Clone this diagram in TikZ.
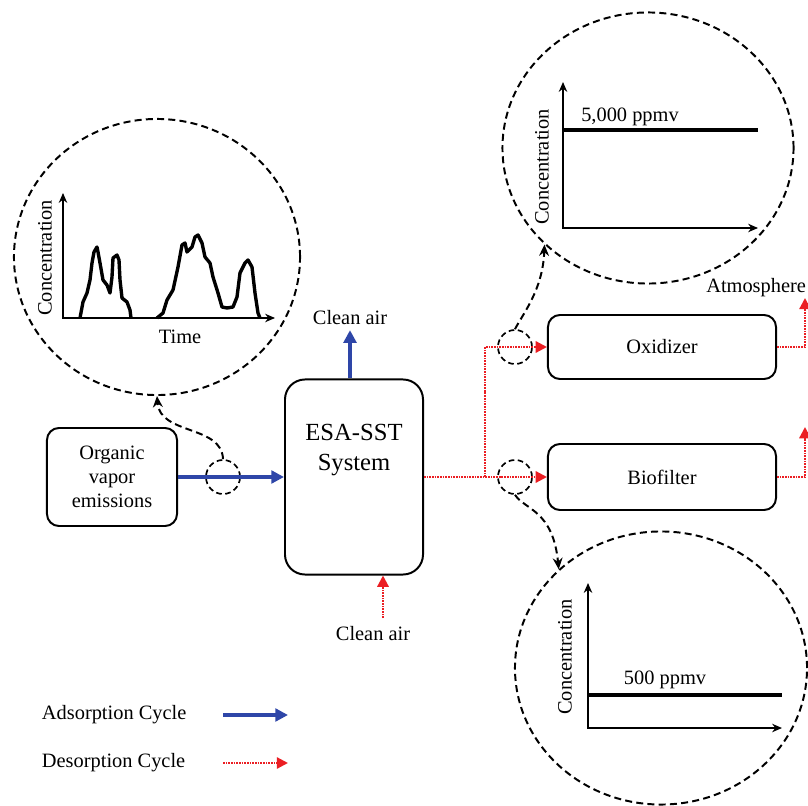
\documentclass[tikz,border=0pt]{standalone}
\usepackage{fontspec}
\setmainfont{Liberation Serif}
\usetikzlibrary{arrows.meta,shapes.geometric,positioning}
\definecolor{adsorbblue}{RGB}{46,70,168}
\definecolor{desorbred}{RGB}{235,30,35}
\begin{document}
\begin{tikzpicture}
[x=0.025cm, y=-0.025cm,
  every node/.style={font=\fontsize{14.5}{17}\selectfont},
  boxdecorate/.style={draw,line width=1.4pt,rounded corners=0.3cm,inner sep=0pt,align=center},%
  circledecorate/.style={shape=ellipse,draw,line width=1.4pt,dash pattern=on 5pt off 3pt,inner sep=0pt},%
  lensdecorate/.style={shape=circle,draw,line width=1.2pt,dash pattern=on 4pt off 2.5pt,inner sep=0pt,minimum size=0.85cm},%
  adsorbdecorate/.style={-{Triangle[length=9pt,width=9pt]},line width=2.8pt,adsorbblue},%
  desorbdecorate/.style={-{Triangle[length=8pt,width=8pt]},line width=1.6pt,desorbred,dash pattern=on 1.2pt off 0.7pt},%
  probedecorate/.style={-{Stealth[length=8pt,width=7pt]},line width=1.4pt,dash pattern=on 5pt off 3pt},%
  axisdecorate/.style={{Stealth[length=7pt,width=6pt]}-{Stealth[length=7pt,width=6pt]},line width=2pt},%
  tracedecorate/.style={line width=2.4pt,line join=round}]
\useasboundingbox (0,0) rectangle (808,806);
%% process boxes
\node (organic) at (112,477) [boxdecorate,minimum width=3.25cm,minimum height=2.45cm] {Organic\\vapor\\emissions};
\node (esa) at (354,477) [boxdecorate,rounded corners=0.5cm,minimum width=3.45cm,minimum height=4.875cm] {};
\node (esatext) at (354,450) [align=center,font=\fontsize{17.5}{21}\selectfont] {ESA-SST\\System};
\node (oxidizer) at (662,347) [boxdecorate,minimum width=5.7cm,minimum height=1.6cm] {Oxidizer};
\node (biofilter) at (662,477) [boxdecorate,minimum width=5.7cm,minimum height=1.65cm] {Biofilter};
\node (cleantop) at (350,318) {Clean air};
\node (cleanbot) at (373,634) {Clean air};
\node (atmosphere) at (706,288) [anchor=west,inner sep=0pt] {Atmosphere};
%% magnified views
\foreach \nodename/\x/\y/\w/\h in {plotA/157/257/7.15/6.9, plotB/648/148/7.275/6.775,
  plotC/661/668/7.3/6.825}
{
  \node (\nodename) at (\x,\y) [circledecorate,minimum width=\w cm,minimum height=\h cm] {};
}
\foreach \nodename/\x/\y in {lensA/223/477, lensB/515/347, lensC/515/477}
{
  \node (\nodename) at (\x,\y) [lensdecorate] {};
}
%% chart contents
\foreach \labelname/\x/\y in {concA/45/258, concB/542/167, concC/565/657}
{
  \node (\labelname) at (\x,\y) [rotate=90] {Concentration};
}
\node (time) at (180,337) {Time};
\node (levelB) at (630,117) {5,000 ppmv};
\node (levelC) at (665,680) {500 ppmv};
\draw[axisdecorate] (63,193) -- (63,318) -- (275,318);
\draw[axisdecorate] (563,82) -- (563,228) -- (758,228);
\draw[axisdecorate] (588,583) -- (588,728) -- (782,728);
\draw[tracedecorate] (563,130) -- (758,130);
\draw[tracedecorate] (588,695) -- (782,695);
\draw[tracedecorate] (80,318) -- (83,302) -- (87,293) -- (90,280) -- (92,263) -- (94,252)
  -- (97,247) -- (98,252) -- (100,263) -- (103,280) -- (107,285) -- (110,293) -- (112,277)
  -- (113,258) -- (117,255) -- (119,260) -- (120,280) -- (122,298) -- (127,302)
  -- (130,310) -- (131,318);
\draw[tracedecorate] (157,318) -- (163,313) -- (167,300) -- (173,290) -- (178,267)
  -- (182,245) -- (185,243) -- (187,252) -- (192,247) -- (195,237) -- (198,235)
  -- (202,243) -- (205,257) -- (210,263) -- (213,277) -- (218,293) -- (222,307)
  -- (227,308) -- (233,307) -- (237,297) -- (240,273) -- (245,263) -- (248,260)
  -- (252,267) -- (255,293) -- (258,313) -- (260,318);
%% flows
\coordinate (split) at (485,477);
\coordinate (atmA) at (805,298);
\coordinate (atmB) at (805,427);
\coordinate (inlet) at (383,618);
\draw[adsorbdecorate] (organic.east) -- (esa.west);
\draw[adsorbdecorate] (esa.north -| cleantop) -- (cleantop.south);
\draw[desorbdecorate] (inlet) -- (inlet |- esa.south);
\draw[desorbdecorate] (esa.east) -- (split) -- (biofilter.west);
\draw[desorbdecorate] (split) |- (oxidizer.west);
\draw[desorbdecorate] (oxidizer.east) -| (atmA);
\draw[desorbdecorate] (biofilter.east) -| (atmB);
%% probe arrows
\draw[probedecorate] (lensA.north) .. controls (222,425) and (160,435) .. (plotA.south);
\draw[probedecorate] (lensB.north) .. controls (522,315) and (543,290) .. (plotB.223);
\draw[probedecorate] (lensC.south) .. controls (525,510) and (553,510) .. (plotC.136);
%% legend
\node (legadsorb) at (37,715) [anchor=west] {Adsorption Cycle};
\node (legdesorb) at (37,763) [anchor=west] {Desorption Cycle};
\coordinate (legadsorbA) at (223,715);
\coordinate (legadsorbB) at (288,715);
\coordinate (legdesorbA) at (223,763);
\coordinate (legdesorbB) at (288,763);
\draw[adsorbdecorate] (legadsorbA) -- (legadsorbB);
\draw[desorbdecorate] (legdesorbA) -- (legdesorbB);
\end{tikzpicture}
\end{document}
